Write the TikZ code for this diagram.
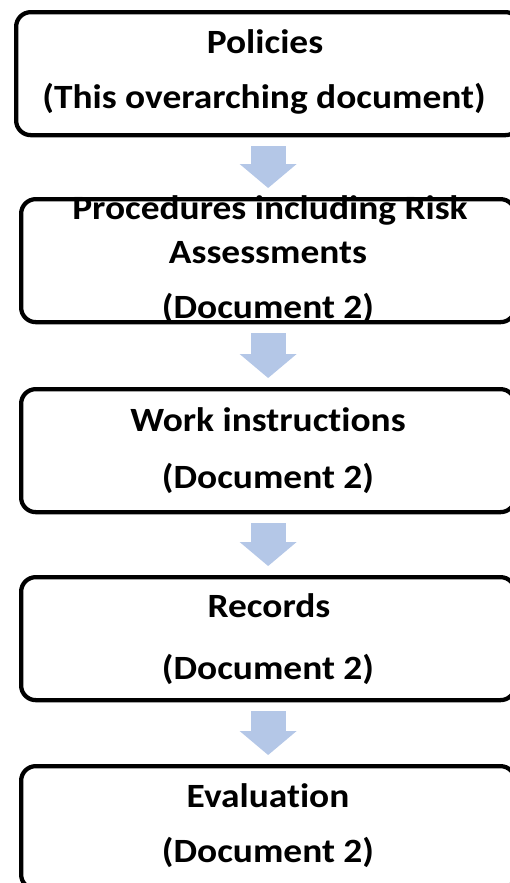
\documentclass[tikz,border=0pt]{standalone}
\usepackage{fontspec}
\setmainfont{Carlito}[FakeStretch=1.1, Ligatures=NoCommon]
\usetikzlibrary{arrows.meta}
\definecolor{arrowblue}{RGB}{180,199,231}
\tikzset{
	stepbox/.style={draw=black, line width=3.2pt, rounded corners=11pt, minimum height=92.25pt, inner sep=0pt, anchor=north west},
	boxtext/.style={anchor=base, inner sep=0pt, font=\fontsize{25.5}{30}\selectfont\bfseries},
	flowarrow/.style={draw=arrowblue, line width=26.25pt, -{Triangle[width=42.75pt, length=18pt, line width=0pt, fill=arrowblue]}}
}

\begin{document}
\begin{tikzpicture}[x=0.75pt, y=-0.75pt]
			%%%%% FRAME %%%%%
			\useasboundingbox (0, 0) rectangle (510, 883);
			\clip (0, 0) rectangle (510, 883);
			
			%%%%% BOXES %%%%%
			\node[stepbox, minimum width=378pt] (pol) at (14, 10) {};
			\node[stepbox, minimum width=370.5pt] (proc) at (19, 197) {};
			\node[stepbox, minimum width=370.5pt] (work) at (19, 387) {};
			\node[stepbox, minimum width=370.5pt] (rec) at (19, 575) {};
			\node[stepbox, minimum width=370.5pt] (eval) at (19, 764) {};
			
			%%%%% TEXT %%%%%
			\node[boxtext] (polA) at (265, 53) {Policies};
			\node[boxtext] (polB) at (264, 108) {(This overarching document)};
			
			\node[boxtext] (procA) at (270, 219) {Procedures including Risk};
			\node[boxtext] (procB) at (268, 263) {Assessments};
			\node[boxtext] (procC) at (268, 318) {(Document 2)};
			
			\node[boxtext] (workA) at (268, 431) {Work instructions};
			\node[boxtext] (workB) at (268, 488) {(Document 2)};
			
			\node[boxtext] (recA) at (269, 617) {Records};
			\node[boxtext] (recB) at (268, 679) {(Document 2)};
			
			\node[boxtext] (evalA) at (268, 807) {Evaluation};
			\node[boxtext] (evalB) at (268, 862) {(Document 2)};
			
			%%%%% ARROWS %%%%%
			\draw[flowarrow] ([yshift=-6.75pt]pol.south) -- ([yshift=6.75pt]proc.north);
			\draw[flowarrow] ([yshift=-6.75pt]proc.south) -- ([yshift=6.75pt]work.north);
			\draw[flowarrow] ([yshift=-6.75pt]work.south) -- ([yshift=6.75pt]rec.north);
			\draw[flowarrow] ([yshift=-6.75pt]rec.south) -- ([yshift=6.75pt]eval.north);
			
			%%%%% END %%%%%
\end{tikzpicture}
\end{document}
